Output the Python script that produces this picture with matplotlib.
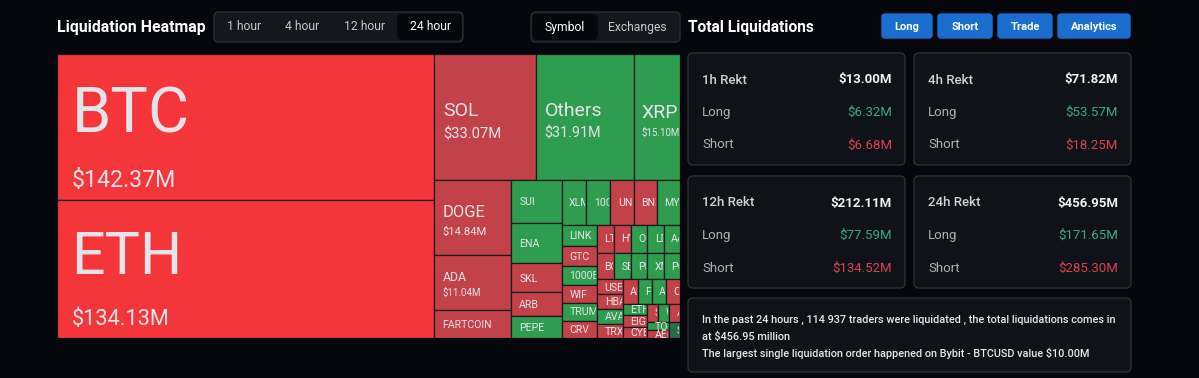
import math
import matplotlib
matplotlib.use("Agg")
import matplotlib.pyplot as plt
from matplotlib.patches import Rectangle, FancyBboxPatch
from matplotlib.transforms import Bbox, TransformedBbox

plt.rcParams['font.family'] = ['Roboto', 'DejaVu Sans']

# 24h liquidations per symbol, USD millions
symbols = ['BTC', 'ETH', 'SOL', 'Others', 'XRP', 'DOGE', 'ADA',
           'FARTCOIN', 'SUI', 'ENA', 'SKL', 'ARB', 'PEPE',
           'XLM', '1000PEPE', 'UNI', 'BNB', 'MYX',
           'LINK', 'GTC', '1000BONK', 'WIF', 'TRUMP', 'CRV',
           'LTC', 'HYPE', 'OP', 'LDO', 'AAVE',
           'BCH', 'SEI', 'PENGU', 'XMR', 'POL',
           'USELESS', 'HBAR', 'AVAX', 'TRX',
           'APT', 'POPCAT', 'ATOM', 'CFX',
           'ETHFI', 'EIGEN', 'CYBER',
           'S', 'WLD', 'ALGO',
           'TON', 'AERO', 'STX']
liq_usd = [142.37, 134.13, 33.07, 31.91, 15.10, 14.84, 11.04,
           5.60, 5.55, 5.28, 3.83, 3.04, 2.90,
           2.84, 2.79, 2.72, 2.66, 2.64,
           1.91, 1.89, 1.71, 1.65, 1.63, 1.60,
           1.22, 1.20, 1.18, 1.18, 1.16,
           1.15, 1.15, 1.14, 1.14, 1.13,
           1.00, 0.97, 0.96, 0.95,
           0.93, 0.90, 0.89, 0.88,
           0.72, 0.72, 0.71,
           0.54, 0.52, 0.50,
           0.48, 0.46, 0.44]
side = ['hot', 'hot', 'short', 'long', 'long', 'short', 'short',
        'short', 'long', 'long', 'short', 'short', 'long',
        'long', 'long', 'short', 'short', 'long',
        'long', 'short', 'long', 'short', 'long', 'short',
        'short', 'short', 'long', 'long', 'long',
        'short', 'long', 'long', 'long', 'long',
        'short', 'short', 'long', 'short',
        'short', 'long', 'long', 'short',
        'long', 'short', 'short',
        'short', 'long', 'short',
        'long', 'short', 'dim']

# summary cards
periods = ['1h', '4h', '12h', '24h']
total_rekt = [13.00, 71.82, 212.11, 456.95]
long_rekt = [6.32, 53.57, 77.59, 171.65]
short_rekt = [6.68, 18.25, 134.52, 285.30]

time_tabs = ['1 hour', '4 hour', '12 hour', '24 hour']
view_tabs = ['Symbol', 'Exchanges']
buttons = ['Long', 'Short', 'Trade', 'Analytics']
traders = '114 937'
biggest = 'Bybit - BTCUSD value \\$10.00M'

colors = {'hot': '#f4363b', 'short': '#c3424a', 'long': '#2e9d4f', 'dim': '#2c6b48'}
label_col = '#e6e4ea'
GOLDEN = (1 + 5 ** 0.5) / 2


# squarified treemap (echarts flavour, golden square ratio)
def worst(row, fixed):
    s = sum(row)
    f = fixed * fixed * GOLDEN
    return max(f * max(row) / (s * s), s * s / (f * min(row)))


def place(row, idx, fixed, rect, out, flush):
    x, y, w, h = rect
    horiz = fixed == w
    other = sum(row) / fixed
    if flush or other > (h if horiz else w):
        other = h if horiz else w
    pos = x if horiz else y
    end = x + w if horiz else y + h
    for k, a in enumerate(row):
        step = a / other
        if k == len(row) - 1 or end - pos < step:
            step = end - pos
        out[idx[k]] = (pos, y, step, other) if horiz else (x, pos, other, step)
        pos += step
    if horiz:
        return (x, y + other, w, h - other)
    return (x + other, y, w - other, h)


def squarify(values, rect):
    total = sum(values)
    order = sorted(range(len(values)), key=lambda i: -values[i])
    areas = [values[i] / total * rect[2] * rect[3] for i in order]
    out = [None] * len(values)
    row, idx = [], []
    best = math.inf
    fixed = min(rect[2], rect[3])
    i = 0
    while i < len(areas):
        row.append(areas[i])
        idx.append(order[i])
        score = worst(row, fixed)
        if score <= best:
            best = score
            i += 1
        else:
            row.pop()
            idx.pop()
            rect = place(row, idx, fixed, rect, out, False)
            fixed = min(rect[2], rect[3])
            row, idx = [], []
            best = math.inf
    if row:
        place(row, idx, fixed, rect, out, True)
    return out


W, H = 1199, 378
fig = plt.figure(figsize=(W / 100, H / 100), dpi=100)
fig.patch.set_facecolor('#05070c')

ui = fig.add_axes([0, 0, 1, 1])
ui.set_xlim(0, W)
ui.set_ylim(H, 0)
ui.axis('off')


def box(x, y, w, h, fc, ec, r=5, lw=1.0, z=1):
    ui.add_patch(FancyBboxPatch((x, y), w, h, boxstyle=f"round,pad=0,rounding_size={r}",
                                fc=fc, ec=ec, lw=lw, zorder=z))


# headers
ui.text(57, 32, 'Liquidation Heatmap', color='white', fontsize=11.4, fontweight='bold')
ui.text(688, 32, 'Total Liquidations', color='white', fontsize=11.2, fontweight='bold')

# time tabs
box(214, 12, 249, 30, '#14171d', '#2a2d34')
box(398, 14.5, 63, 25, '#05070b', '#05070b', r=4)
for lbl, cx in zip(time_tabs, [244, 302, 365, 430]):
    ui.text(cx, 27, lbl, ha='center', va='center', fontsize=8.7,
            color='white' if lbl == '24 hour' else '#c6c9ce')

# symbol / exchanges tabs
box(531, 12, 149, 30, '#14171d', '#2a2d34')
box(533, 14.5, 64, 25, '#05070b', '#05070b', r=4)
for lbl, cx in zip(view_tabs, [565, 637]):
    ui.text(cx, 27, lbl, ha='center', va='center', fontsize=8.7,
            color='white' if lbl == 'Symbol' else '#c6c9ce')

# action buttons
bx = 882
for lbl, bw in zip(buttons, [50, 54, 54, 72]):
    box(bx, 14, bw, 24, '#1a6fce', '#1a6fce', r=3)
    ui.text(bx + bw / 2, 26.5, lbl, ha='center', va='center', fontsize=8,
            fontweight='bold', color='white')
    bx += bw + 6

# summary cards
for i, p in enumerate(periods):
    cx = 688 + (i % 2) * 226
    cy = 53 + (i // 2) * 123
    box(cx, cy, 217, 112, '#0f1218', '#2b2f37')
    rows = [(f'{p} Rekt', total_rekt[i], '#d0d2d6', '#f2f2f4', 'bold'),
            ('Long', long_rekt[i], '#aeb1b7', '#3aa983', 'normal'),
            ('Short', short_rekt[i], '#aeb1b7', '#d9434f', 'normal')]
    for k, (lbl, val, lc, vc, vw) in enumerate(rows):
        yy = cy + 27 + k * 32.5
        ui.text(cx + 14, yy, lbl, va='center', fontsize=9.5, color=lc,
                fontweight='medium' if k == 0 else 'normal')
        ui.text(cx + 204, yy, f'\\${val:.2f}M', ha='right', va='center',
                fontsize=9.5, color=vc, fontweight=vw)

box(688, 298, 443, 74, '#0f1218', '#2b2f37')
lines = [f'In the past 24 hours , {traders} traders were liquidated , the total liquidations comes in',
         f'at \\${total_rekt[-1]:.2f} million',
         f'The largest single liquidation order happened on {biggest}']
for k, ln in enumerate(lines):
    ui.text(702, 320 + k * 16.5, ln, va='center', fontsize=7.8, color='#e8e8ea',
            fontweight='medium')

# treemap
tm_x0, tm_y0, tm_x1, tm_y1 = 57, 54, 680, 338
tm = fig.add_axes([tm_x0 / W, 1 - tm_y1 / H, (tm_x1 - tm_x0) / W, (tm_y1 - tm_y0) / H])
tw, th = tm_x1 - tm_x0, tm_y1 - tm_y0
tm.set_xlim(0, tw)
tm.set_ylim(th, 0)
tm.axis('off')

cells = squarify(liq_usd, (0, 0, tw, th))
for name, val, sd, (x, y, w, h) in zip(symbols, liq_usd, side, cells):
    tm.add_patch(Rectangle((x, y), w, h, fc=colors[sd], ec='#1a1a1c', lw=0.9))
    clip = TransformedBbox(Bbox.from_bounds(x, y, w - 1, h), tm.transData)
    pad = 7 + 0.02 * w
    if w > 200:
        name_pt = 0.31 * h
    else:
        name_pt = min(max(0.16 * h, 7.6), 14)
    px = 100 / 72 * 0.711
    nc = name_pt * px
    texts = []
    if h > 50:
        val_pt = min(max(min(0.114 * h, 0.105 * w), 7), 17)
        vc = val_pt * px
        gap = 0.85 * nc
        top = y + h / 2 - (nc + gap + vc) / 2 + 0.22 * nc
        texts.append(tm.text(x + pad, top + nc, name, fontsize=name_pt, color=label_col))
        texts.append(tm.text(x + pad, top + nc + gap + vc, f'\\${val:.2f}M',
                             fontsize=val_pt, color=label_col))
    else:
        texts.append(tm.text(x + pad, y + h / 2 + nc / 2, name, fontsize=name_pt,
                             color=label_col))
    for t in texts:
        t.set_clip_on(True)
        t.set_clip_box(clip)

fig.savefig('out.png', dpi=100, facecolor=fig.get_facecolor())
